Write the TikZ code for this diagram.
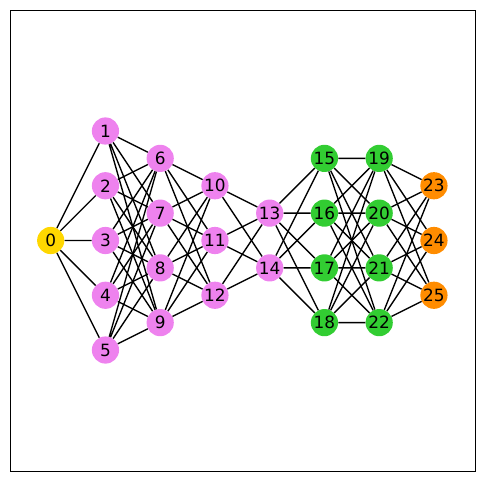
\documentclass[tikz,border=0pt]{standalone}
\usepackage{fontspec}
\setmainfont{DejaVu Sans}
\usepackage{tikz}
\usetikzlibrary{positioning}
\definecolor{nodegold}{RGB}{255,215,0}
\definecolor{nodeviolet}{RGB}{238,130,238}
\definecolor{nodegreen}{RGB}{50,205,50}
\definecolor{nodeorange}{RGB}{255,140,0}
\tikzset{
  vertex/.style = {
    circle,
    minimum size=27.2pt,
    inner sep=0pt,
    font=\fontsize{16.9}{18}\selectfont
  },
  vertex_start/.style = {vertex, fill=nodegold},
  vertex_mid/.style = {vertex, fill=nodeviolet},
  vertex_late/.style = {vertex, fill=nodegreen},
  vertex_end/.style = {vertex, fill=nodeorange},
  edge/.style = {
    line width=1.35pt,
    draw=black
  },
  frame/.style = {
    line width=1.1pt,
    draw=black
  }
}

\begin{document}
\begin{tikzpicture}[
  x=1pt, y=-1pt % pixel grid, y downwards
]
\useasboundingbox (0,0) rectangle (484,482);
\draw [frame] (10.5,10.5) rectangle (475.5,471.5);

% ===== Camada 0 =====
\node (n0) [vertex_start] at (50.7,240.5) {0};

% ===== Camada 1 =====
\node (n1) [vertex_mid] at (105.45,131) {1};
\node (n2) [vertex_mid] at (105.45,185.75) {2};
\node (n3) [vertex_mid] at (105.45,240.5) {3};
\node (n4) [vertex_mid] at (105.45,295.25) {4};
\node (n5) [vertex_mid] at (105.45,350) {5};

% ===== Camada 2 =====
\node (n6) [vertex_mid] at (160.2,158.375) {6};
\node (n7) [vertex_mid] at (160.2,213.125) {7};
\node (n8) [vertex_mid] at (160.2,267.875) {8};
\node (n9) [vertex_mid] at (160.2,322.625) {9};

% ===== Camada 3 =====
\node (n10) [vertex_mid] at (214.95,185.75) {10};
\node (n11) [vertex_mid] at (214.95,240.5) {11};
\node (n12) [vertex_mid] at (214.95,295.25) {12};

% ===== Camada 4 =====
\node (n13) [vertex_mid] at (269.7,213.125) {13};
\node (n14) [vertex_mid] at (269.7,267.875) {14};

% ===== Camada 5 =====
\node (n15) [vertex_late] at (324.45,158.375) {15};
\node (n16) [vertex_late] at (324.45,213.125) {16};
\node (n17) [vertex_late] at (324.45,267.875) {17};
\node (n18) [vertex_late] at (324.45,322.625) {18};

% ===== Camada 6 =====
\node (n19) [vertex_late] at (379.2,158.375) {19};
\node (n20) [vertex_late] at (379.2,213.125) {20};
\node (n21) [vertex_late] at (379.2,267.875) {21};
\node (n22) [vertex_late] at (379.2,322.625) {22};

% ===== Camada 7 =====
\node (n23) [vertex_end] at (433.95,185.75) {23};
\node (n24) [vertex_end] at (433.95,240.5) {24};
\node (n25) [vertex_end] at (433.95,295.25) {25};

% ===== Arestas (camada -> camada seguinte) =====
\draw [edge] (n0) -- (n1) (n0) -- (n2) (n0) -- (n3) (n0) -- (n4) (n0) -- (n5);

\draw [edge] (n1) -- (n6) (n1) -- (n7) (n1) -- (n8) (n1) -- (n9);
\draw [edge] (n2) -- (n6) (n2) -- (n7) (n2) -- (n8) (n2) -- (n9);
\draw [edge] (n3) -- (n6) (n3) -- (n7) (n3) -- (n8) (n3) -- (n9);
\draw [edge] (n4) -- (n6) (n4) -- (n7) (n4) -- (n8) (n4) -- (n9);
\draw [edge] (n5) -- (n6) (n5) -- (n7) (n5) -- (n8) (n5) -- (n9);

\draw [edge] (n6) -- (n10) (n6) -- (n11) (n6) -- (n12);
\draw [edge] (n7) -- (n10) (n7) -- (n11) (n7) -- (n12);
\draw [edge] (n8) -- (n10) (n8) -- (n11) (n8) -- (n12);
\draw [edge] (n9) -- (n10) (n9) -- (n11) (n9) -- (n12);

\draw [edge] (n10) -- (n13) (n10) -- (n14);
\draw [edge] (n11) -- (n13) (n11) -- (n14);
\draw [edge] (n12) -- (n13) (n12) -- (n14);

\draw [edge] (n13) -- (n15) (n13) -- (n16) (n13) -- (n17) (n13) -- (n18);
\draw [edge] (n14) -- (n15) (n14) -- (n16) (n14) -- (n17) (n14) -- (n18);

\draw [edge] (n15) -- (n19) (n15) -- (n20) (n15) -- (n21) (n15) -- (n22);
\draw [edge] (n16) -- (n19) (n16) -- (n20) (n16) -- (n21) (n16) -- (n22);
\draw [edge] (n17) -- (n19) (n17) -- (n20) (n17) -- (n21) (n17) -- (n22);
\draw [edge] (n18) -- (n19) (n18) -- (n20) (n18) -- (n21) (n18) -- (n22);

\draw [edge] (n19) -- (n23) (n19) -- (n24) (n19) -- (n25);
\draw [edge] (n20) -- (n23) (n20) -- (n24) (n20) -- (n25);
\draw [edge] (n21) -- (n23) (n21) -- (n24) (n21) -- (n25);
\draw [edge] (n22) -- (n23) (n22) -- (n24) (n22) -- (n25);

\end{tikzpicture}
\end{document}
